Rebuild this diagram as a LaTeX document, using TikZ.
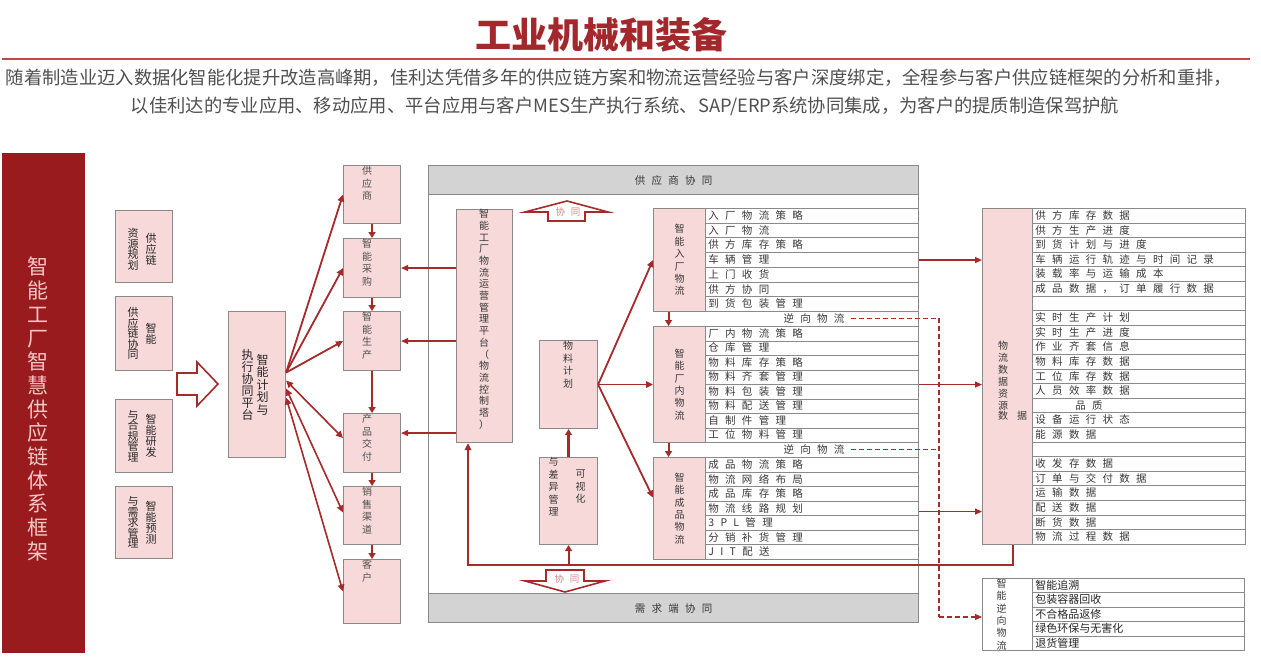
\documentclass[tikz,border=0pt]{standalone}
\usepackage{fontspec}
\setmainfont{Noto Sans CJK SC}
\newfontfamily\lsfont{Noto Sans CJK SC}[LetterSpace=60]
\usetikzlibrary{arrows.meta,calc}
\definecolor{dred}{HTML}{9A1B1E}
\definecolor{tred}{HTML}{A3282B}
\definecolor{linered}{HTML}{C04848}
\definecolor{ared}{HTML}{A52A2A}
\definecolor{pinkf}{HTML}{F7D9D9}
\definecolor{bord}{HTML}{8A8A8A}
\definecolor{bandc}{HTML}{D3D3D3}
\definecolor{subc}{HTML}{505050}
\definecolor{rowtxt}{HTML}{383838}
\definecolor{barc}{HTML}{F5C6C6}
\definecolor{xtc}{HTML}{D08888}
\ExplSyntaxOn
\NewDocumentCommand\vt{O{1.15em}m}
 { \vbox:n { \skip_set:Nn \baselineskip {#1} \dim_set:Nn \lineskiplimit {-100pt}
   \tl_map_inline:nn {#2} { \hbox_to_wd:nn {1em} { \hss ##1 \hss } } } }
\ExplSyntaxOff
\begin{document}
\begin{tikzpicture}[x=1pt,y=-1pt,
  pbox/.style={draw=bord, fill=pinkf, line width=1.1pt, inner sep=0pt, anchor=north west, minimum width=57pt},
  vtxt/.style={inner sep=0pt, anchor=north, text=subc, font=\fontsize{10}{12}\selectfont},
  ctxt/.style={inner sep=0pt, text=black!85, font=\fontsize{11}{12}\selectfont},
  row/.style={draw=bord, fill=white, line width=0.8pt, anchor=north west, inner xsep=3pt, inner ysep=0pt,
    text width=207pt, align=left, text height=9.3pt, text depth=1.7pt,
    font=\lsfont\fontsize{10.5}{12}\selectfont, text=rowtxt},
  rrow/.style={row, font=\fontsize{11}{12}\selectfont, text=black!85, text width=206pt},
  arr/.style={draw=ared, line width=1.8pt, -{Triangle[length=7pt,width=6.5pt]}},
  darr/.style={draw=ared, line width=1.6pt, {Triangle[length=7pt,width=6.5pt]}-{Triangle[length=7pt,width=6.5pt]}},
  varr/.style={draw=ared, line width=2.4pt, -{Triangle[length=6pt,width=7pt]}},
  tarr/.style={draw=ared, line width=1.3pt, -{Triangle[length=7pt,width=6pt]}},
  dsh/.style={draw=ared, line width=1.3pt, dash pattern=on 5pt off 3pt},
  hollow/.style={draw=ared, fill=white, line width=1.6pt, line join=miter}
]
\useasboundingbox (0,0) rectangle (1261,661);
\fill[white] (0,0) rectangle (1261,661);

% title and intro
\node[font=\fontsize{36}{40}\selectfont\bfseries, text=tred, inner sep=0pt] (title) at (601,35) {工业机械和装备};
\draw[draw=linered, line width=2pt] (2,59) -- (1250,59);
\node[font=\fontsize{18.3}{20}\selectfont, text=subc, inner sep=0pt] (sub1) at (619,78)
 {随着制造业迈入数据化智能化提升改造高峰期，佳利达凭借多年的供应链方案和物流运营经验与客户深度绑定，全程参与客户供应链框架的分析和重排，};
\node[font=\fontsize{18.3}{20}\selectfont, text=subc, inner sep=0pt] (sub2) at (625,106)
 {以佳利达的专业应用、移动应用、平台应用与客户MES生产执行系统、SAP/ERP系统协同集成，为客户的提质制造保驾护航};

% left bar
\node[fill=dred, minimum width=83pt, minimum height=500pt, inner sep=0pt, anchor=north west] (bar) at (2,153) {};
\node[inner sep=0pt, anchor=north, text=barc, font=\fontsize{21}{24}\selectfont] (bart) at (38,257) {\vt[23.7pt]{智能工厂智慧供应链体系框架}};

% four small boxes
\node[pbox, minimum height=72pt] (b1) at (115,210) {};
\node[ctxt] (b1t) at ([xshift=-2pt,yshift=-3pt]b1.center) {$\vcenter{\vt[10.5pt]{资源规划}}\kern7pt\vcenter{\vt[11pt]{供应链}}$};
\node[pbox, minimum height=74pt] (b2) at (115,296) {};
\node[ctxt] (b2t) at ([xshift=-2pt]b2.center) {$\vcenter{\vt[10.5pt]{供应链协同}}\kern7pt\vcenter{\vt[11pt]{智能}}$};
\node[pbox, minimum height=73pt] (b3) at (115,399) {};
\node[ctxt] (b3t) at ([xshift=-2pt]b3.center) {$\vcenter{\vt[10.5pt]{与合规管理}}\kern7pt\vcenter{\vt[11pt]{智能研发}}$};
\node[pbox, minimum height=72pt] (b4) at (115,486) {};
\node[ctxt] (b4t) at ([xshift=-2pt]b4.center) {$\vcenter{\vt[10.5pt]{与需求管理}}\kern7pt\vcenter{\vt[11pt]{智能预测}}$};

% hollow arrow
\draw[hollow] (177,373) -- (197,373) -- (197,362) -- (218,384) -- (197,406) -- (197,395) -- (177,395) -- cycle;

% planning box
\node[pbox, minimum height=146pt] (plan) at (228,311) {};
\node[ctxt, font=\fontsize{12}{13}\selectfont] (plant) at ([xshift=-2pt]plan.center) {$\vcenter{\vt[12pt]{执行协同平台}}\kern3pt\vcenter{\vt[12.5pt]{智能计划与}}$};

% column boxes
\node[pbox, minimum height=58pt] (sup) at (343,165) {};
\node[pbox, minimum height=59pt] (cai) at (343,238) {};
\node[pbox, minimum height=59pt] (sc) at (343,311) {};
\node[pbox, minimum height=59pt] (jf) at (343,413) {};
\node[pbox, minimum height=58pt] (xs) at (343,486) {};
\node[pbox, minimum height=64pt] (kh) at (343,559) {};
\node[vtxt] (supt) at (367,166) {\vt[12.5pt]{供应商}};
\node[vtxt] (cait) at (367,239) {\vt[12.5pt]{智能采购}};
\node[vtxt] (sct) at (367,312) {\vt[12.5pt]{智能生产}};
\node[vtxt] (jft) at (367,414) {\vt[12.5pt]{产品交付}};
\node[vtxt] (xst) at (367,487) {\vt[12.5pt]{销售渠道}};
\node[vtxt] (kht) at (367,560) {\vt[12.5pt]{客户}};
\draw[varr] (sup.south) -- (cai.north);
\draw[varr] (cai.south) -- (sc.north);
\draw[varr] (sc.south) -- (jf.north);
\draw[varr] (jf.south) -- (xs.north);
\draw[varr] (xs.south) -- (kh.north);

% fan from planning box
\draw[arr] ([yshift=12pt]plan.east) -- (sup.west);
\draw[arr] ([yshift=12pt]plan.east) -- (cai.west);
\draw[arr] ([yshift=12pt]plan.east) -- (sc.west);
\draw[darr] ([yshift=4pt]plan.east) -- ([yshift=5pt]jf.west);
\draw[darr] ([yshift=-4pt]plan.east) -- ([yshift=3pt]xs.west);
\draw[darr] ([yshift=-13pt]plan.east) -- (kh.west);

% big frame
\node[draw=bord, fill=white, line width=1.2pt, minimum width=490pt, minimum height=457pt, inner sep=0pt, anchor=north west] (frame) at (428,165) {};
\node[draw=bord, fill=bandc, line width=1.2pt, minimum width=490pt, minimum height=29pt, inner sep=0pt, anchor=north west,
  font=\lsfont\fontsize{10.5}{12}\selectfont, text=rowtxt] (topb) at (428,165) {供应商协同};
\node[draw=bord, fill=bandc, line width=1.2pt, minimum width=490pt, minimum height=29pt, inner sep=0pt, anchor=north west,
  font=\lsfont\fontsize{10.5}{12}\selectfont, text=rowtxt] (botb) at (428,593) {需求端协同};

% xietong arrows
\draw[hollow] (525,212) -- (567,201) -- (608,212) -- (585,212) -- (585,221) -- (548,221) -- (548,212) -- cycle;
\node[inner sep=0pt, text=xtc, font=\lsfont\fontsize{9.5}{10}\selectfont] (xt1) at (568,212) {协同};
\draw[hollow] (546,570) -- (584,570) -- (584,581) -- (605,581) -- (565,592) -- (525,581) -- (546,581) -- cycle;
\node[inner sep=0pt, text=xtc, font=\lsfont\fontsize{9.5}{10}\selectfont] (xt2) at (567,579) {协同};

% platform
\node[pbox, minimum width=56pt, minimum height=233pt] (plat) at (456,209) {};
\node[vtxt, text=rowtxt] (platt) at (484,209) {\vt[11.7pt]{智能工厂物流运营管理平台（物流控制塔）}};
\coordinate (jfa) at ([yshift=10pt]jf.east);
\draw[tarr] (plat.west |- cai.east) -- (cai.east);
\draw[tarr] (plat.west |- sc.east) -- (sc.east);
\draw[tarr] (plat.west |- jfa) -- (jfa);

% material plan & visual
\node[pbox, minimum width=58pt, minimum height=88pt] (wl) at (539,340) {};
\node[vtxt, text=rowtxt] (wlt) at (568,341) {\vt[12.5pt]{物料计划}};
\node[pbox, minimum width=58pt, minimum height=87pt] (vis) at (539,457) {};
\node[ctxt, text=rowtxt, font=\fontsize{10}{12}\selectfont] (vist) at (567,487) {$\vcenter{\vt[12.5pt]{与差异管理}}\kern17pt\vcenter{\vt[12.5pt]{可视化}}$};
\draw[varr] (vis.north) -- (wl.south);

% groups
\node[pbox, minimum width=52pt, minimum height=103pt] (ru) at (653,208) {};
\node[pbox, minimum width=52pt, minimum height=116pt] (nei) at (653,326) {};
\node[pbox, minimum width=52pt, minimum height=102pt] (cp) at (653,457) {};
\node[ctxt, text=rowtxt, font=\fontsize{10}{12}\selectfont] (rut) at (ru.center) {\vt[12.4pt]{智能入厂物流}};
\node[ctxt, text=rowtxt, font=\fontsize{10}{12}\selectfont] (neit) at (nei.center) {\vt[12.4pt]{智能厂内物流}};
\node[ctxt, text=rowtxt, font=\fontsize{10}{12}\selectfont] (cpt) at (cp.center) {\vt[12.4pt]{智能成品物流}};
\foreach \t [count=\i from 0] in {入厂物流策略,入厂物流,供方库存策略,车辆管理,上门收货,供方协同,到货包装管理}
  \node[row, minimum height=14.71pt] (ra\i) at (705,{208+\i*14.71}) {\t};
\foreach \t [count=\i from 0] in {厂内物流策略,仓库管理,物料库存策略,物料齐套管理,物料包装管理,物料配送管理,自制件管理,工位物料管理}
  \node[row, minimum height=14.5pt] (rb\i) at (705,{326+\i*14.5}) {\t};
\foreach \t [count=\i from 0] in {成品物流策略,物流网络布局,成品库存策略,物流线路规划,3PL管理,分销补货管理,JIT配送}
  \node[row, minimum height=14.57pt] (rc\i) at (705,{457+\i*14.57}) {\t};
\node[inner sep=0pt, font=\lsfont\fontsize{10.5}{12}\selectfont, text=rowtxt] (rv1) at (814,318.5) {逆向物流};
\node[inner sep=0pt, font=\lsfont\fontsize{10.5}{12}\selectfont, text=rowtxt] (rv2) at (814,449.5) {逆向物流};
\draw[varr, line width=2pt] ([xshift=-11pt]ru.south) -- ([xshift=-11pt]nei.north);
\draw[varr, line width=2pt] ([xshift=-11pt]nei.south) -- ([xshift=-11pt]cp.north);
\draw[arr] (wl.east) -- (ru.west);
\draw[arr] (wl.east) -- (nei.west);
\draw[arr] (wl.east) -- ([yshift=11pt]cp.west);

% data box
\node[pbox, minimum width=50pt, minimum height=336pt] (dlab) at (982,208) {};
\node[vtxt, text=rowtxt] (dl1) at (1003,341) {\vt[12pt]{物流数据资源}};
\node[inner sep=0pt, anchor=north west, text=rowtxt, font=\fontsize{10}{12}\selectfont] (dl2) at (dl1.south west) {数\hspace{9pt}据};
\foreach \t [count=\i from 0] in {供方库存数据,供方生产进度,到货计划与进度,车辆运行轨迹与时间记录,装载率与运输成本,成品数据，订单履行数据,{},
  实时生产计划,实时生产进度,作业齐套信息,物料库存数据,工位库存数据,人员效率数据,{\hspace*{40pt}品质},设备运行状态,能源数据,{},
  收发存数据,订单与交付数据,运输数据,配送数据,断货数据,物流过程数据}
  \node[row, minimum height=14.6pt] (rd\i) at (1032,{208+\i*14.6}) {\t};
\draw[tarr] (frame.east |- ru.center) -- (dlab.west |- ru.center);
\draw[tarr] (frame.east |- nei.center) -- (dlab.west |- nei.center);
\coordinate (cpa) at ([yshift=-3pt]cp.center);
\draw[tarr] (frame.east |- cpa) -- (dlab.west |- cpa);

% reverse logistics box
\node[draw=bord, fill=white, line width=1.1pt, inner sep=0pt, anchor=north west, minimum width=50pt, minimum height=72pt] (rlab) at (982,578) {};
\node[ctxt, text=rowtxt, font=\fontsize{10}{12}\selectfont] (rlabt) at ([xshift=-6pt]rlab.center) {\vt[12.4pt]{智能逆向物流}};
\foreach \t [count=\i from 0] in {智能追溯,包装容器回收,不合格品返修,绿色环保与无害化,退货管理}
  \node[rrow, minimum height=14.4pt] (re\i) at (1032,{578+\i*14.4}) {\t};

% dashed reverse flow
\coordinate (dvt) at (939,318);
\coordinate (dvb) at (939,617);
\draw[dsh] ([xshift=6pt]rv1.east) -- (rv1.east -| dvt) -- (dvb);
\draw[dsh] ([xshift=6pt]rv2.east) -- (rv2.east -| dvt);
\draw[dsh, -{Triangle[length=7pt,width=6pt]}] (dvb) -- (dvb -| rlab.west);

% bottom feedback loop
\coordinate (bl) at (1013,565);
\coordinate (bl2) at (468,565);
\draw[arr] (bl |- dlab.south) -- (bl) -- (bl2) -- (bl2 |- plat.south);
\draw[varr, line width=2pt] (vis.south |- bl) -- (vis.south);
\end{tikzpicture}
\end{document}
